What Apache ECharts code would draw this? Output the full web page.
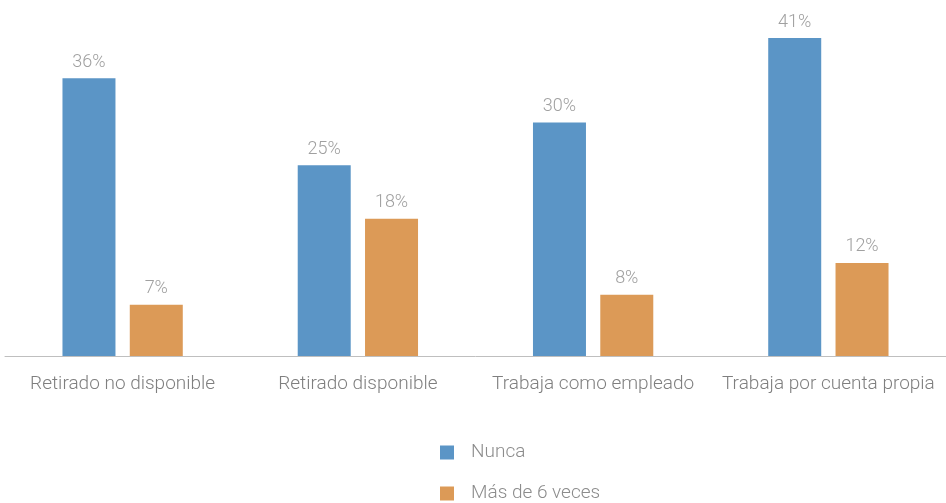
<!DOCTYPE html>
<html>
<head>
<meta charset="utf-8">
<script src="https://cdn.jsdelivr.net/npm/echarts@6/dist/echarts.min.js"></script>
<style>
html, body { margin: 0; padding: 0; background: #fff; }
#chart { width: 946px; height: 503px; }
</style>
</head>
<body>
<div id="chart"></div>
<script>
var categories = ['Retirado no disponible', 'Retirado disponible', 'Trabaja como empleado', 'Trabaja por cuenta propia'];
var seriesNames = ['Nunca', 'Más de 6 veces'];
// values; labels show them rounded
var nunca = [35.8, 24.6, 30.1, 41.0];
var masDe6 = [6.6, 17.7, 7.9, 12.0];

var fontName = 'Roboto, sans-serif';

function pct(p) { return Math.round(p.value) + '%'; }

var myChart = echarts.init(document.getElementById('chart'));
var option = {
    textStyle: { fontFamily: fontName },
    grid: { left: 5, right: -2, top: 7, bottom: 147, containLabel: false },
    legend: {
        orient: 'vertical',
        left: 440,
        top: 443,
        padding: 0,
        height: 80,
        itemWidth: 14,
        itemHeight: 14,
        itemGap: 22,
        icon: 'rect',
        textStyle: { fontFamily: fontName, fontWeight: 300, fontSize: 19, color: '#8c8c8c', padding: [0, 0, 0, 12] },
        data: seriesNames
    },
    xAxis: {
        type: 'category',
        data: categories,
        axisLine: { lineStyle: { color: '#bfbfbf', width: 1 } },
        axisTick: { show: false },
        axisLabel: { fontFamily: fontName, fontWeight: 300, fontSize: 19, color: '#7f7f7f', margin: 19, interval: 0 }
    },
    yAxis: {
        type: 'value',
        min: 0,
        max: 45,
        show: false,
        splitLine: { show: false }
    },
    series: [
        {
            name: seriesNames[0],
            type: 'bar',
            data: nunca,
            barWidth: 53,
            barGap: '27%',
            itemStyle: { color: '#5b95c6' },
            label: { show: true, position: 'top', distance: 7, formatter: pct, fontFamily: fontName, fontWeight: 300, fontSize: 18, color: '#a0a0a0' }
        },
        {
            name: seriesNames[1],
            type: 'bar',
            data: masDe6,
            barWidth: 53,
            barGap: '27%',
            itemStyle: { color: '#dc9a57' },
            label: { show: true, position: 'top', distance: 7, formatter: pct, fontFamily: fontName, fontWeight: 300, fontSize: 18, color: '#a0a0a0' }
        }
    ]
};
myChart.setOption(option);
</script>
</body>
</html>
